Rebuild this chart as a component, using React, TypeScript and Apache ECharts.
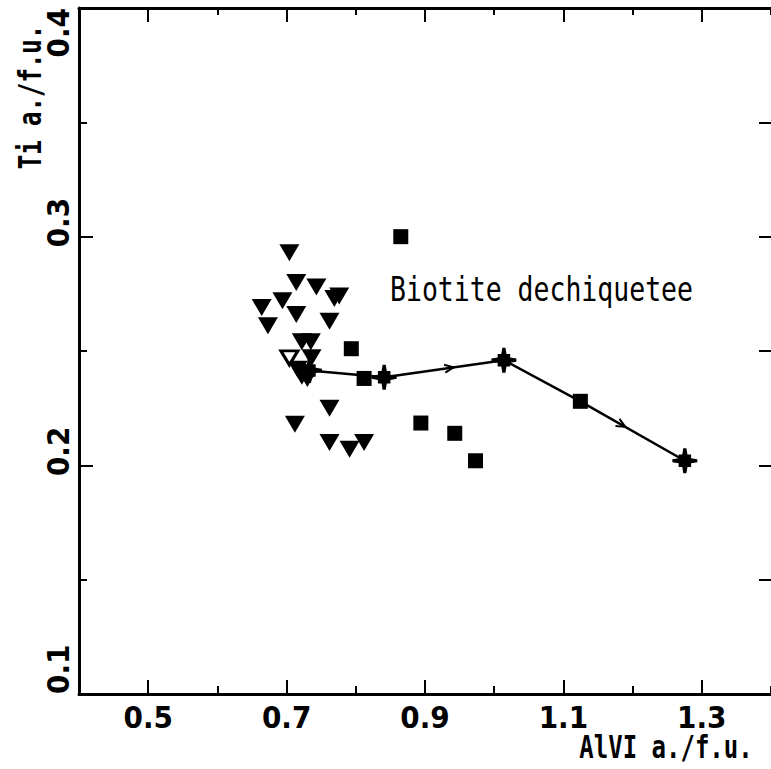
import React, { useEffect, useRef } from 'react';
import * as echarts from 'echarts';

// Filled downward triangles
const triangleX = [0.704, 0.714, 0.743, 0.769, 0.776, 0.694, 0.664, 0.714, 0.673, 0.762, 0.722, 0.735, 0.736, 0.716, 0.722, 0.730, 0.762, 0.712, 0.762, 0.791, 0.812];
const triangleY = [0.293, 0.280, 0.278, 0.273, 0.274, 0.272, 0.269, 0.266, 0.261, 0.263, 0.254, 0.254, 0.247, 0.242, 0.239, 0.238, 0.225, 0.218, 0.210, 0.207, 0.210];
// Open downward triangle
const openTriangleX = [0.704];
const openTriangleY = [0.247];
// Filled squares
const squareX = [0.865, 0.7935, 0.812, 0.894, 0.943, 0.973, 1.1245];
const squareY = [0.300, 0.251, 0.238, 0.2185, 0.214, 0.202, 0.228];
// Evolution path (stars at some vertices)
const pathX = [0.733, 0.841, 1.014, 1.1245, 1.2755];
const pathY = [0.2415, 0.2385, 0.246, 0.228, 0.202];
const starIndex = [0, 1, 2, 4];
const arrowSegments = [1, 3];
const arrowFractions = [0.58, 0.43];

// Ticks
const xMajorTicks = [0.5, 0.7, 0.9, 1.1, 1.3];
const xTickLabels = ['0.5', '0.7', '0.9', '1.1', '1.3'];
const yTickLabels = ['0.1', '0.2', '0.3', '0.4'];

const xAxisName = 'AlVI a./f.u.';
const yAxisName = 'Ti a./f.u.';
const annotationText = 'Biotite dechiquetee';

const STAR = 'path://M-1.5,-12 L1.5,-12 L2.5,-6 L6,-6 L6,-2.5 L12,-1.5 L12,1.5 L6,2.5 L6,6 L2.5,6 L1.5,12 L-1.5,12 L-2.5,6 L-6,6 L-6,2.5 L-12,1.5 L-12,-1.5 L-6,-2.5 L-6,-6 L-2.5,-6 Z';

const MONO = "'DejaVu Sans Mono', monospace";
const NARROW = "'Liberation Sans Narrow', 'DejaVu Sans Condensed', sans-serif";

export default function App() {
  const ref = useRef<HTMLDivElement>(null);
  useEffect(() => {
    document.body.style.margin = '0';
    if (!ref.current) return;
    const chart = echarts.init(ref.current, null, { renderer: 'svg' });
    const zip = (xs: number[], ys: number[]) => xs.map((x, i) => [x, ys[i]]);
    const arrowData = arrowSegments.map((s, i) => [pathX[s], pathY[s], pathX[s + 1], pathY[s + 1], arrowFractions[i]]);
    const labelFont = { color: '#000', fontFamily: NARROW, fontWeight: 'bold', fontSize: 31 };
    const axisLine = { show: true, onZero: false, lineStyle: { color: '#000', width: 3 } };
    const noLine = { show: false, onZero: false };
    const tickStyle = { color: '#000', width: 2 };
    const xBase = { type: 'value', min: 0.4, max: 1.4, interval: 0.1, splitLine: { show: false } };
    const yBase = { type: 'value', min: 0.1, max: 0.4, splitLine: { show: false } };
    const option: any = {
      animation: false,
      backgroundColor: '#fff',
      grid: { left: 79, top: 8, right: 0, bottom: 75, containLabel: false },
      xAxis: [
        {
          ...xBase, position: 'bottom', axisLine,
          axisTick: { show: true, inside: true, length: 14, customValues: xMajorTicks, lineStyle: tickStyle },
          axisLabel: {
            show: true, margin: 7, ...labelFont,
            formatter: (v: number) => (xTickLabels.includes(v.toFixed(1)) ? v.toFixed(1) : ''),
          },
        },
        {
          ...xBase, position: 'top', axisLine,
          axisTick: { show: true, inside: true, length: 14, customValues: xMajorTicks, lineStyle: tickStyle },
          axisLabel: { show: false },
        },
        {
          ...xBase, position: 'bottom', axisLine: noLine,
          axisTick: { show: true, inside: true, length: 8, lineStyle: tickStyle },
          axisLabel: { show: false },
        },
        {
          ...xBase, position: 'top', axisLine: noLine,
          axisTick: { show: true, inside: true, length: 7, lineStyle: tickStyle },
          axisLabel: { show: false },
        },
      ],
      yAxis: [
        {
          ...yBase, position: 'left', interval: 0.1, axisLine,
          axisTick: { show: true, inside: true, length: 14, lineStyle: tickStyle },
          minorTick: { show: true, splitNumber: 2, length: 8, lineStyle: tickStyle },
          minorSplitLine: { show: false },
          axisLabel: { show: false },
        },
        {
          ...yBase, position: 'right', interval: 0.05, axisLine: noLine,
          axisTick: { show: true, inside: true, length: 12, lineStyle: tickStyle },
          axisLabel: { show: false },
        },
        {
          ...yBase, position: 'left', interval: 0.1, axisLine: noLine,
          axisTick: { show: true, inside: true, length: 14, lineStyle: tickStyle },
          axisLabel: {
            show: true, rotate: 90, margin: 6, ...labelFont,
            alignMinLabel: 'left', alignMaxLabel: 'right',
            formatter: (v: number) => {
              const s = v.toFixed(1);
              if (!yTickLabels.includes(s)) return '';
              const isEnd = s === yTickLabels[0] || s === yTickLabels[yTickLabels.length - 1];
              return isEnd ? `{e|${s}}` : `{m|${s}}`;
            },
            rich: {
              e: { ...labelFont },
              m: { ...labelFont, padding: [0, 0, 0, 28] },
            },
          },
        },
      ],
      series: [
        {
          type: 'line', data: zip(pathX, pathY), symbol: 'none',
          lineStyle: { color: '#000', width: 2.5 }, z: 2,
        },
        {
          type: 'custom', data: arrowData, encode: { x: [0, 2], y: [1, 3] }, z: 3,
          renderItem: (_p: any, api: any) => {
            const p1 = api.coord([api.value(0), api.value(1)]);
            const p2 = api.coord([api.value(2), api.value(3)]);
            const t = api.value(4);
            const cx = p1[0] + (p2[0] - p1[0]) * t;
            const cy = p1[1] + (p2[1] - p1[1]) * t;
            const a = Math.atan2(p2[1] - p1[1], p2[0] - p1[0]);
            const c = Math.cos(a), s = Math.sin(a);
            const pts = [[-9, -4], [0, 0], [-9, 4]].map(([x, y]) => [cx + x * c - y * s, cy + x * s + y * c]);
            return { type: 'polyline', shape: { points: pts }, style: { stroke: '#000', fill: null, lineWidth: 2 } };
          },
        },
        {
          type: 'scatter', data: starIndex.map(i => [pathX[i], pathY[i]]), symbol: STAR, symbolSize: 25,
          itemStyle: { color: '#000', opacity: 1 }, z: 4,
        },
        {
          type: 'scatter', data: zip(squareX, squareY), symbol: 'rect', symbolSize: 15,
          itemStyle: { color: '#000', opacity: 1 }, z: 5,
        },
        {
          type: 'scatter', data: zip(triangleX, triangleY), symbol: 'triangle', symbolRotate: 180, symbolSize: [20, 17],
          itemStyle: { color: '#000', opacity: 1 }, z: 6,
        },
        {
          type: 'scatter', data: zip(openTriangleX, openTriangleY), symbol: 'triangle', symbolRotate: 180, symbolSize: [17, 14],
          itemStyle: { color: '#fff', borderColor: '#000', borderWidth: 3, opacity: 1 }, z: 7,
        },
      ],
      graphic: [
        {
          type: 'text', x: 30, y: 97, rotation: Math.PI / 2, scaleY: 1.35,
          style: { text: yAxisName, font: `bold 24px ${MONO}`, fill: '#000', align: 'center', verticalAlign: 'middle' },
        },
        {
          type: 'text', x: 666, y: 747, scaleY: 1.35,
          style: { text: xAxisName, font: `bold 24px ${MONO}`, fill: '#000', align: 'center', verticalAlign: 'middle' },
        },
        {
          type: 'text', x: 390, y: 289, scaleY: 1.3,
          style: { text: annotationText, font: `26.5px ${MONO}`, fill: '#000', align: 'left', verticalAlign: 'middle' },
        },
      ],
    };
    chart.setOption(option);
    return () => chart.dispose();
  }, []);
  return (
    <div style={{ width: 771, height: 769, overflow: 'hidden', position: 'relative' }}>
      <div ref={ref} style={{ width: 774, height: 769 }} />
    </div>
  );
}
